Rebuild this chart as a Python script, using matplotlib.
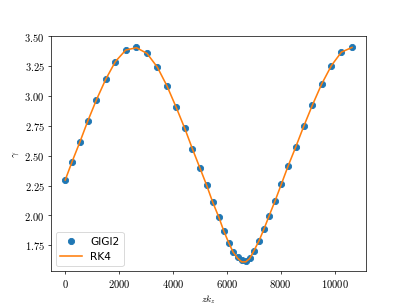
import matplotlib
matplotlib.use("Agg")
import matplotlib.pyplot as plt
from matplotlib.ticker import FuncFormatter

plt.rcParams['mathtext.fontset'] = 'cm'

# values
zk = [0, 252, 538, 835, 1158, 1503, 1863, 2245, 2642, 3035,
      3421, 3777, 4111, 4434, 4720, 4998, 5250, 5473, 5696, 5881,
      6067, 6234, 6401, 6549, 6698, 6846, 6994, 7187, 7373, 7570,
      7792, 8022, 8267, 8553, 8850, 9173, 9518, 9878, 10249, 10642]
gamma_gigi2 = [2.296, 2.448, 2.611, 2.789, 2.968, 3.140, 3.289, 3.382, 3.407, 3.357,
               3.241, 3.084, 2.909, 2.730, 2.557, 2.397, 2.251, 2.110, 1.987, 1.871,
               1.770, 1.694, 1.648, 1.622, 1.618, 1.643, 1.700, 1.784, 1.884, 1.998,
               2.124, 2.262, 2.411, 2.572, 2.746, 2.924, 3.101, 3.255, 3.368, 3.407]
gamma_rk4 = [2.296, 2.448, 2.611, 2.789, 2.968, 3.140, 3.289, 3.385, 3.405, 3.357,
             3.241, 3.084, 2.909, 2.730, 2.557, 2.397, 2.251, 2.110, 1.987, 1.871,
             1.770, 1.690, 1.640, 1.610, 1.610, 1.638, 1.700, 1.784, 1.884, 1.998,
             2.124, 2.262, 2.411, 2.572, 2.746, 2.924, 3.101, 3.255, 3.368, 3.407]

fig, ax = plt.subplots(figsize=(6.4, 4.8), dpi=63.6)
ax.plot(zk, gamma_gigi2, 'o', color='C0', markersize=7, label='GIGI2')
ax.plot(zk, gamma_rk4, '-', color='C1', linewidth=1.8, label='RK4')

ax.set_ylim(1.53, 3.5)
ax.xaxis.set_major_formatter(FuncFormatter(lambda v, p: '$%d$' % round(v)))
ax.yaxis.set_major_formatter(FuncFormatter(lambda v, p: '$%.2f$' % v))
ax.tick_params(labelsize=12)
ax.set_xlabel(r'$zk_z$', fontsize=11)
ax.set_ylabel(r'$\gamma$', fontsize=11)
ax.legend(loc='lower left', fontsize=12)

fig.savefig('out.png', dpi=63.6)
